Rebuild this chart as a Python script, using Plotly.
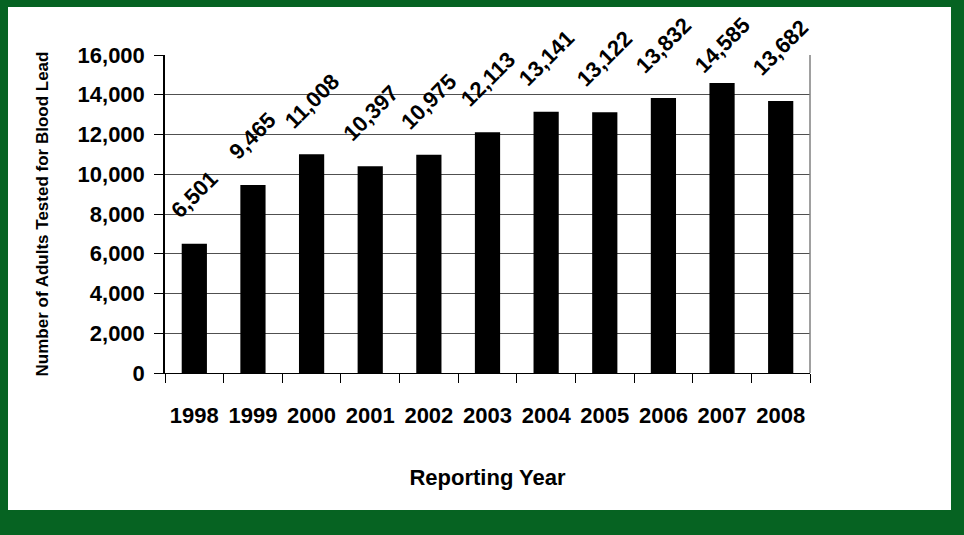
import plotly.graph_objects as go

years = ["1998", "1999", "2000", "2001", "2002", "2003", "2004", "2005", "2006", "2007", "2008"]
adults_tested = [6501, 9465, 11008, 10397, 10975, 12113, 13141, 13122, 13832, 14585, 13682]
y_ticks = [0, 2000, 4000, 6000, 8000, 10000, 12000, 14000, 16000]
y_tick_labels = [f"{v:,}" for v in y_ticks]

FONT = "Liberation Sans, Arial, sans-serif"
GREEN = "#066322"

Y_MAX = 16000
PLOT_TOP, PLOT_H = 55, 318   # plot area pixels (from margins below)

fig = go.Figure()
fig.add_trace(go.Bar(
    x=years, y=adults_tested,
    marker=dict(color="black", line=dict(width=0)),
    width=0.43,
    hoverinfo="x+y",
))

for i, v in enumerate(adults_tested):
    # keep the rotated label inside the chart (as the original does for the tallest bar)
    bar_top_px = PLOT_TOP + (Y_MAX - v) / Y_MAX * PLOT_H
    shift = min(18, bar_top_px - PLOT_TOP - 26)
    fig.add_annotation(
        x=i, y=v, text=f"{v:,}", showarrow=False,
        textangle=-45, xanchor="center", yanchor="bottom", yshift=shift,
        font=dict(family=FONT, size=22, color="black", weight="bold"),
    )

# white panel over the green frame
fig.add_shape(type="rect", xref="paper", yref="paper",
              x0=-0.2434, x1=1.2186, y0=-0.4308, y1=1.1509,
              fillcolor="white", line=dict(width=0), layer="below")
# right border of plot area
fig.add_shape(type="line", xref="paper", yref="paper",
              x0=1, x1=1, y0=0, y1=1, line=dict(color="#808080", width=1.5))

fig.update_layout(
    width=964, height=535,
    margin=dict(l=165, r=154, t=55, b=162),
    paper_bgcolor=GREEN,
    plot_bgcolor="white",
    showlegend=False,
    font=dict(family=FONT, color="black"),
    xaxis=dict(
        type="category",
        range=[-0.5, len(years) - 0.5],
        tickson="boundaries",
        ticks="outside", ticklen=9, tickcolor="black", tickwidth=1,
        showline=True, linecolor="black", linewidth=1,
        showgrid=False,
        tickangle=0,
        tickfont=dict(family=FONT, size=22, color="black", weight="bold"),
        ticklabelstandoff=23,
        title=dict(text="Reporting Year", standoff=42,
                   font=dict(family=FONT, size=22, color="black", weight="bold")),
    ),
    yaxis=dict(
        range=[0, Y_MAX],
        tickvals=y_ticks, ticktext=y_tick_labels,
        ticks="outside", ticklen=9, tickcolor="black", tickwidth=1,
        showline=True, linecolor="black", linewidth=1.5,
        showgrid=True, gridcolor="#505050", gridwidth=1,
        zeroline=False,
        tickfont=dict(family=FONT, size=22, color="black", weight="bold"),
        ticklabelstandoff=5,
        title=dict(text="Number of Adults Tested for Blood Lead", standoff=25,
                   font=dict(family=FONT, size=17, color="black", weight="bold")),
    ),
)

fig.write_html("out.html")
